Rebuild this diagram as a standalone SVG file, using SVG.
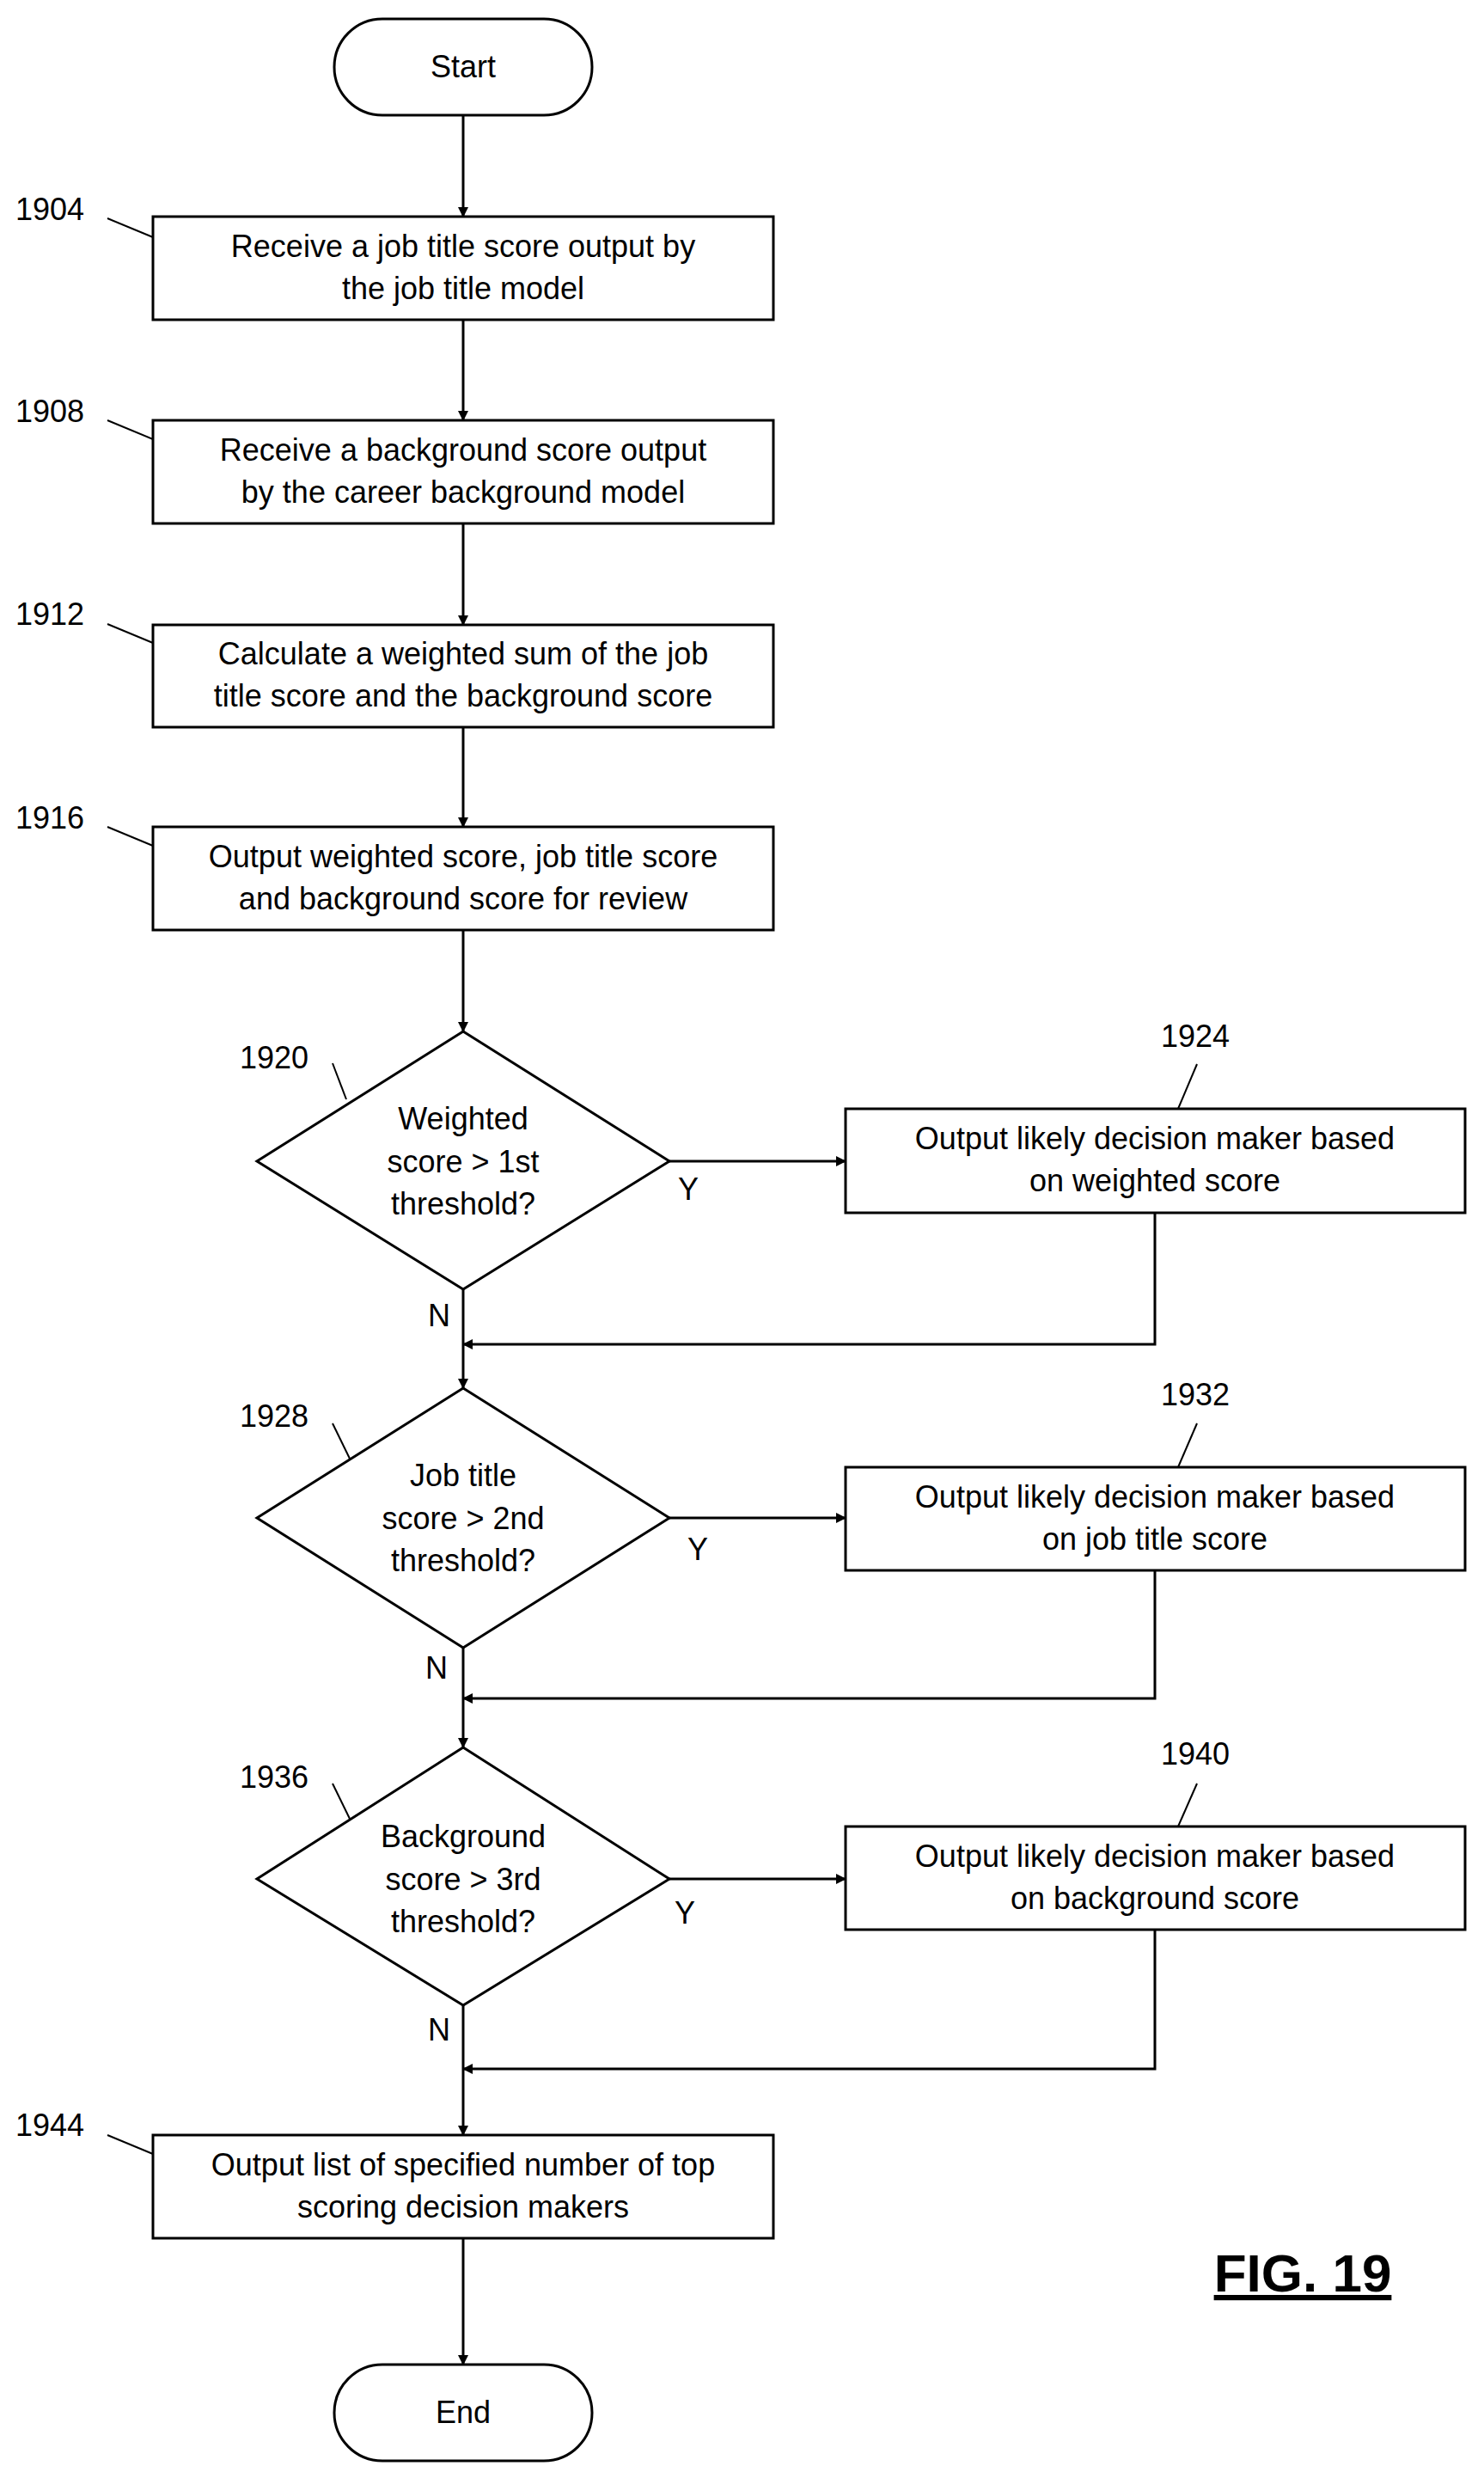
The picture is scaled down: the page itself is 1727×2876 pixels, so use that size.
<svg xmlns="http://www.w3.org/2000/svg" width="1727" height="2876" viewBox="0 0 1727 2876">
<style>
text{font-family:"Liberation Sans",Arial,sans-serif;font-size:36px;fill:#000}
.c{text-anchor:middle}
.s{fill:#fff;stroke:#000;stroke-width:3}
.l{fill:none;stroke:#000;stroke-width:3}
.t{fill:none;stroke:#000;stroke-width:2}
</style>
<defs><marker id="a" markerWidth="12" markerHeight="12" refX="11" refY="6" orient="auto" markerUnits="userSpaceOnUse"><path d="M0,0 L12,6 L0,12 Z" fill="#000"/></marker></defs>
<rect width="1727" height="2876" fill="#fff"/>
<g id="connectors">
<path class="l" d="M539,134V252" marker-end="url(#a)"/>
<path class="l" d="M539,372V489" marker-end="url(#a)"/>
<path class="l" d="M539,609V727" marker-end="url(#a)"/>
<path class="l" d="M539,846V962" marker-end="url(#a)"/>
<path class="l" d="M539,1082V1200" marker-end="url(#a)"/>
<path class="l" d="M779,1351H984" marker-end="url(#a)"/>
<path class="l" d="M1344,1411V1564H539" marker-end="url(#a)"/>
<path class="l" d="M539,1500V1615" marker-end="url(#a)"/>
<path class="l" d="M779,1766H984" marker-end="url(#a)"/>
<path class="l" d="M1344,1827V1976H539" marker-end="url(#a)"/>
<path class="l" d="M539,1917V2033" marker-end="url(#a)"/>
<path class="l" d="M779,2186H984" marker-end="url(#a)"/>
<path class="l" d="M1344,2245V2407H539" marker-end="url(#a)"/>
<path class="l" d="M539,2333V2484" marker-end="url(#a)"/>
<path class="l" d="M539,2604V2751" marker-end="url(#a)"/>
<text x="801" y="1396" class="c">Y</text><text x="812" y="1815" class="c">Y</text><text x="797" y="2238" class="c">Y</text>
<text x="511" y="1543" class="c">N</text><text x="508" y="1953" class="c">N</text><text x="511" y="2374" class="c">N</text>
</g>
<g id="start"><rect class="s" x="389" y="22" width="300" height="112" rx="56"/><text x="539" y="90" class="c">Start</text></g>
<g id="n1904"><rect class="s" x="178" y="252" width="722" height="120"/><text x="539" y="299" class="c">Receive a job title score output by</text><text x="539" y="348" class="c">the job title model</text>
<text x="18" y="256">1904</text><path class="t" d="M125,254L178,276"/></g>
<g id="n1908"><rect class="s" x="178" y="489" width="722" height="120"/><text x="539" y="536" class="c">Receive a background score output</text><text x="539" y="585" class="c">by the career background model</text>
<text x="18" y="491">1908</text><path class="t" d="M125,489L178,511"/></g>
<g id="n1912"><rect class="s" x="178" y="727" width="722" height="119"/><text x="539" y="773" class="c">Calculate a weighted sum of the job</text><text x="539" y="822" class="c">title score and the background score</text>
<text x="18" y="727">1912</text><path class="t" d="M125,726L178,748"/></g>
<g id="n1916"><rect class="s" x="178" y="962" width="722" height="120"/><text x="539" y="1009" class="c">Output weighted score, job title score</text><text x="539" y="1058" class="c">and background score for review</text>
<text x="18" y="964">1916</text><path class="t" d="M125,962L178,984"/></g>
<g id="n1920"><path class="s" d="M539,1200L779,1351L539,1500L299,1351Z"/><text x="539" y="1314" class="c">Weighted</text><text x="539" y="1364" class="c">score &gt; 1st</text><text x="539" y="1413" class="c">threshold?</text>
<text x="279" y="1243">1920</text><path class="t" d="M387,1237L403,1279"/></g>
<g id="n1924"><rect class="s" x="984" y="1290" width="721" height="121"/><text x="1344" y="1337" class="c">Output likely decision maker based</text><text x="1344" y="1386" class="c">on weighted score</text>
<text x="1351" y="1218">1924</text><path class="t" d="M1393,1238L1371,1290"/></g>
<g id="n1928"><path class="s" d="M539,1615L779,1766L539,1917L299,1766Z"/><text x="539" y="1729" class="c">Job title</text><text x="539" y="1779" class="c">score &gt; 2nd</text><text x="539" y="1828" class="c">threshold?</text>
<text x="279" y="1660">1928</text><path class="t" d="M387,1656L407,1697"/></g>
<g id="n1932"><rect class="s" x="984" y="1707" width="721" height="120"/><text x="1344" y="1754" class="c">Output likely decision maker based</text><text x="1344" y="1803" class="c">on job title score</text>
<text x="1351" y="1635">1932</text><path class="t" d="M1393,1656L1371,1707"/></g>
<g id="n1936"><path class="s" d="M539,2033L779,2186L539,2333L299,2186Z"/><text x="539" y="2149" class="c">Background</text><text x="539" y="2199" class="c">score &gt; 3rd</text><text x="539" y="2248" class="c">threshold?</text>
<text x="279" y="2080">1936</text><path class="t" d="M387,2075L407,2116"/></g>
<g id="n1940"><rect class="s" x="984" y="2125" width="721" height="120"/><text x="1344" y="2172" class="c">Output likely decision maker based</text><text x="1344" y="2221" class="c">on background score</text>
<text x="1351" y="2053">1940</text><path class="t" d="M1393,2075L1371,2125"/></g>
<g id="n1944"><rect class="s" x="178" y="2484" width="722" height="120"/><text x="539" y="2531" class="c">Output list of specified number of top</text><text x="539" y="2580" class="c">scoring decision makers</text>
<text x="18" y="2485">1944</text><path class="t" d="M125,2484L178,2506"/></g>
<g id="end"><rect class="s" x="389" y="2751" width="300" height="112" rx="56"/><text x="539" y="2819" class="c">End</text></g>
<g id="fig"><text x="1516" y="2666" class="c" style="font-size:62px;font-weight:bold;text-decoration:underline">FIG. 19</text></g>
</svg>
